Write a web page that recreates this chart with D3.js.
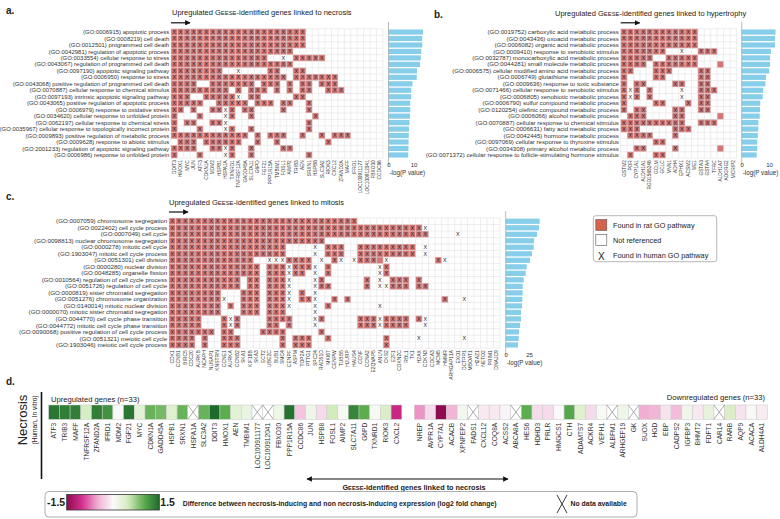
<!DOCTYPE html>
<html><head><meta charset="utf-8">
<script src="https://cdn.jsdelivr.net/npm/d3@7"></script>
<style>body{margin:0;background:#fff}svg{font-family:"Liberation Sans",Arial,sans-serif}</style>
</head><body><svg id="chart" width="780" height="519"></svg>
<script>
// ---------------- DATA ----------------
const necrosisTerms = ["(GO:0006915) apoptotic process","(GO:0008219) cell death","(GO:0012501) programmed cell death","(GO:0042981) regulation of apoptotic process","(GO:0033554) cellular response to stress","(GO:0043067) regulation of programmed cell death","(GO:0097190) apoptotic signaling pathway","(GO:0006950) response to stress","(GO:0043068) positive regulation of programmed cell death","(GO:0070887) cellular response to chemical stimulus","(GO:0097193) intrinsic apoptotic signaling pathway","(GO:0043065) positive regulation of apoptotic process","(GO:0006979) response to oxidative stress","(GO:0034620) cellular response to unfolded protein","(GO:0062197) cellular response to chemical stress","(GO:0035967) cellular response to topologically incorrect protein","(GO:0009893) positive regulation of metabolic process","(GO:0009628) response to abiotic stimulus","(GO:2001233) regulation of apoptotic signaling pathway","(GO:0006986) response to unfolded protein"];
const necrosisGenes = ["DDIT3","HMOX1","MYC","JUN","ATF3","CDKN1A","MDM2","HSPB1","HSPA1A","TXNRD1","TNFRSF12A","GADD45A","SLC7A11","G6PD","FGF21","PPP1R15A","TMBIM1","FOSL1","AIMP2","TRIB3","AEN","SRXN1","HSPB8","SLC3A2","RIOK3","CXCL2","ZFAND2A","MAFF","IFRD1","LOC100911177","LOC100912041","FBXO30","CCDC86"];
// R = found in rat (with X), r = rat only, x = human only
const necrosisCells = ["R0-20","R0-20","R0-20","R0-18","R0-14 x17 R19-23","R0-18","R0-7 x10 R15-16 R19-20","R0-17 R19-25","R0-3 R6-12 R14-16 R18 R20-21 R23-25","R0-8 R10 R12-14 R16 R18 R20-21 R24-26","R0-2 R5-9 x10 R12-13 R19-20","R0-4 R7-11 R13-15 R17-18 R21","R0-1 R3 R6-7 x8 R9 R11-12 R17 R21","R0 R4 x8 R9 R12 R22","R0 R2-3 R6-7 x8 R21","R0 R4 x8 R9 R12 R21","R0-11 R13 R15-17 R20 R23 R25-27","R1-3 R5-10 R13 R16 R24","R0-3 R6-7 x8 R9 R12 R17-18","R0 R4 x8 R9 R12 R21"];
const necrosisLogP = [13.8,13.5,13.5,13.1,12.9,12.6,11.4,11.3,9.6,9.1,9.1,8.7,8.7,8.6,8.4,8.2,8.1,8.0,8.0,7.9];

const hypertrophyTerms = ["(GO:0019752) carboxylic acid metabolic process","(GO:0043436) oxoacid metabolic process","(GO:0006082) organic acid metabolic process","(GO:0009410) response to xenobiotic stimulus","(GO:0032787) monocarboxylic acid metabolic process","(GO:0044281) small molecule metabolic process","(GO:0006575) cellular modified amino acid metabolic process","(GO:0006749) glutathione metabolic process","(GO:0009636) response to toxic substance","(GO:0071466) cellular response to xenobiotic stimulus","(GO:0006805) xenobiotic metabolic process","(GO:0006790) sulfur compound metabolic process","(GO:0120254) olefinic compound metabolic process","(GO:0006066) alcohol metabolic process","(GO:0070887) cellular response to chemical stimulus","(GO:0006631) fatty acid metabolic process","(GO:0042445) hormone metabolic process","(GO:0097069) cellular response to thyroxine stimulus","(GO:0034308) primary alcohol metabolic process","(GO:0071372) cellular response to follicle-stimulating hormone stimulus"];
const hypertrophyGenes = ["GSTM2","POR","CYP1A1","ALDH1A1","RGD1565248","GCLM","GCLC","VNN1","ADH4","EPHX1","ACSM2","ME1","GSTA3","GSTA4","TFRC","ALDH1A7","ADGRG2","MCRIP2"];
const hypertrophyCells = ["R0-11","R0-11","R0-11","R0-6 x9 R12-14","R0-4 R7-11","R0-3 R5-11 r15","R0-1 R5-7 R12-13","R0 R5-6 R12-13","R0 R2-3 R8-9 R12-13","R0 x1 R2 R4 x9 R12-14","R0 x1 R2 R4 x9 R12-13","R0 R5-6 R10 R12-13","R0 R2-3 R8-9 R12-13","R1-3 R8-9 r15","R0-9 R12-14","R0-2 R8-10","R1-4 R8","R5-6","R2-3 R8 r15","R1 R5-6"];
const hypertrophyLogP = [12.4,12.2,12.2,10.7,10.4,10.4,10.1,8.9,8.7,7.9,7.7,6.8,6.7,6.6,6.1,6.1,5.9,5.7,5.7,5.5];

const mitosisTerms = ["(GO:0007059) chromosome segregation","(GO:0022402) cell cycle process","(GO:0007049) cell cycle","(GO:0098813) nuclear chromosome segregation","(GO:0000278) mitotic cell cycle","(GO:1903047) mitotic cell cycle process","(GO:0051301) cell division","(GO:0000280) nuclear division","(GO:0048285) organelle fission","(GO:0010564) regulation of cell cycle process","(GO:0051726) regulation of cell cycle","(GO:0000819) sister chromatid segregation","(GO:0051276) chromosome organization","(GO:0140014) mitotic nuclear division","(GO:0000070) mitotic sister chromatid segregation","(GO:0044770) cell cycle phase transition","(GO:0044772) mitotic cell cycle phase transition","(GO:0090068) positive regulation of cell cycle process","(GO:0051321) meiotic cell cycle","(GO:1903046) meiotic cell cycle process"];
const mitosisGenes = ["CDK1","CCNB1","BIRC5","CDC20","AURKB","NCAPH","NUSAP1","KNSTRN","CCNE1","AURKA","CCNB2","SKA1","KIF18B","SKA3","ECT2","UBE2C","BUB1","SMC4","CENPF","ASPM","TOP2A","PTTG1","SPC24","RAD51D","MKI67","CENPW","TUBB5","HJURP","HAUS4","CCNF","CCNA2","E2QVAP5","ANLN","CKS2","E2F1","CDKN2C","RBL1","TK1","H2AX","CDKN3","CDCA3","MCM5","HMMR","ARHGAP11A","EXO1","DCTPP1","MBOAT1","H2AZ1","NETO2","PRIM1","DNAJC9"];
const mitosisCells = ["R0-28","R0-38 x39","R0-39 x44","R0-23","R0-17 x22 R24-26 R29-37 x39","R0-17 x22 R24-26 R29-37 x39","R0-12 x15-17 R18-21 x23 R25 x26 x28 R29-31 r32 x33 R41 x42","R0-13 R15-17 x18 R19-21 x22 R24 x32 R33","R0-13 R15-17 x18 R19-20 x22 R24 x32 R33","R0-10 R12-13 R15-17 x18 x22 R23 R30 x32 R34-36 R38","R0-10 R12-13 R15-17 x18 x22 R23-24 R30 x32 x33 R34-36 R38-39","R0-7 R11-13 R15-17 x18 R20 x22","R0-7 x8 R11-13 R15-17 x18 R20-21 x22 R25 R27 R42 x45","R0-7 R9 R11-13 R15-17 x18 x22 R24 x32","R0-7 R11-13 R15-17 x22","R0-4 R8 x9 R10 R15-18 x22 R23 R29-31 x32 R33-36 R38 x39","R0-4 R8 x9 R10 R15-16 R18 x22 R29-31 x32 R33-36 x39","R0-6 R8-9 R14-17 R23","R0-3 R5 R8-10 R17 R19-21 R24 R33 x38 x45","R0-3 R5 R8-10 R17 R19-21 R33"];
const mitosisLogP = [36.4,35.7,33.6,30.4,30.0,28.2,26.0,22.5,21.4,19.3,18.2,18.2,17.9,17.5,16.4,16.4,15.4,14.3,13.9,13.2];

const upGenes = ["ATF3","TRIB3","MAFF","TNFRSF12A","ZFAND2A","IFRD1","MDM2","FGF21","MYC","CDKN1A","GADD45A","HSPB1","SRXN1","HSPA1A","SLC3A2","DDIT3","HMOX1","AEN","TMBIM1","LOC100911177","LOC100912041","FBXO30","PPP1R15A","CCDC86","JUN","HSPB8","FOSL1","AIMP2","SLC7A11","G6PD","TXNRD1","RIOK3","CXCL2"];
const upFC = [1.4,1.35,1.35,0.45,1.35,1.2,0.03,1.4,0.3,0.95,0.9,0.35,0.95,null,0.95,1.5,1.0,0.3,0.2,null,null,0.15,1.45,-0.35,0.15,-0.2,0.5,0.04,1.3,1.0,0.05,0.4,-1.1];
const downGenes = ["NREP","AVPR1A","CYP7A1","ACACB","XPNPEP2","FADS1","CXCL12","COQ8A","ACSS2","ABCA8A","HES6","HDHD3","PRLR","HMGCS1","CTH","ADAMTS7","ACKR4","VEPH1","ALBFM1","ARHGEF19","GK","SUOX","HGD","EBP","CADPS2","IGFBP3","BHMT2","FDFT1","CAR14","RARB","AQP9","ACACA","ALDH4A1"];
const downFC = [-0.6,-0.2,-1.5,-0.45,0.1,null,-0.12,-0.12,-0.04,null,1.0,-0.2,-0.2,0.02,1.05,0.35,-0.2,0.05,null,0.15,null,-0.5,-0.45,-0.15,-0.4,0.12,-0.12,0.25,null,0.4,-0.15,0.03,-0.1];
const legendTicks = [-1.5, 1.5];

// ---------------- DRAW ----------------
const svg = d3.select("#chart");
const defs = svg.append("defs");
defs.append("marker").attr("id","ah").attr("viewBox","0 0 10 10").attr("refX",9).attr("refY",5)
  .attr("markerWidth",4.5).attr("markerHeight",4.5).attr("orient","auto-start-reverse")
  .append("path").attr("d","M0,0L10,5L0,10z").attr("fill","#111");

const RED = "#d27676";

function parseRow(spec, n){
  const arr = new Array(n).fill(".");
  spec.split(" ").filter(s=>s).forEach(tok=>{
    const t = tok[0]; const p = tok.slice(1).split("-").map(Number);
    const a = p[0], b = p.length>1 ? p[1] : p[0];
    for(let i=a;i<=b;i++) arr[i]=t;
  });
  return arr;
}

function title(x, y, subject){
  const t = svg.append("text").attr("x",x).attr("y",y).attr("font-size",7.5).attr("fill","#222");
  t.append("tspan").text("Upregulated G");
  t.append("tspan").attr("font-size",5.9).text("EESE");
  t.append("tspan").text("-identified genes linked to " + subject);
}

function panel(cfg){
  const g = svg.append("g");
  const nC = cfg.genes.length, nR = cfg.terms.length;
  const x = d3.scaleBand().domain(cfg.genes).range([cfg.x0, cfg.x0 + cfg.cw*nC]);
  const y = d3.scaleBand().domain(cfg.terms).range([cfg.y0, cfg.y0 + cfg.rh*nR]);
  const cells = [];
  cfg.terms.forEach((t,i)=>{
    parseRow(cfg.cells[i], nC).forEach((c,j)=>{ cells.push({term:t, gene:cfg.genes[j], code:c}); });
  });
  g.selectAll("rect.c").data(cells.filter(d=>d.code==="R"||d.code==="r")).join("rect")
    .attr("x",d=>x(d.gene)).attr("y",d=>y(d.term)).attr("width",x.bandwidth()).attr("height",y.bandwidth())
    .attr("fill",RED);
  const xs = d3.range(nC+1).map(i=>cfg.x0+i*cfg.cw), ys = d3.range(nR+1).map(i=>cfg.y0+i*cfg.rh);
  g.selectAll("line.v").data(xs).join("line").attr("x1",d=>d).attr("x2",d=>d)
    .attr("y1",cfg.y0).attr("y2",cfg.y0+cfg.rh*nR).attr("stroke","#dcdcdc").attr("stroke-width",0.5);
  g.selectAll("line.h").data(ys).join("line").attr("y1",d=>d).attr("y2",d=>d)
    .attr("x1",cfg.x0).attr("x2",cfg.x0+cfg.cw*nC).attr("stroke","#dcdcdc").attr("stroke-width",0.5);
  g.selectAll("text.x").data(cells.filter(d=>d.code==="R"||d.code==="x")).join("text")
    .attr("x",d=>x(d.gene)+x.bandwidth()/2).attr("y",d=>y(d.term)+y.bandwidth()/2+1.9)
    .attr("text-anchor","middle").attr("font-size",5.4).attr("fill","#222").text("X");
  g.selectAll("text.r").data(cfg.terms).join("text")
    .attr("x",cfg.x0-1.8).attr("y",d=>y(d)+y.bandwidth()/2+2.1).attr("text-anchor","end")
    .attr("font-size",cfg.rfs).attr("fill","#333").text(d=>d);
  const yb = cfg.y0+cfg.rh*nR;
  g.selectAll("text.g").data(cfg.genes).join("text")
    .attr("transform",d=>`translate(${x(d)+x.bandwidth()/2+1.7},${yb+2}) rotate(-90)`)
    .attr("text-anchor","end").attr("font-size",cfg.gfs).attr("fill","#333").text(d=>d);
  const bx = d3.scaleLinear().domain([0,cfg.max]).range([cfg.bx0, cfg.bx0+cfg.ppu*cfg.max]);
  g.selectAll("rect.b").data(cfg.logp).join("rect")
    .attr("x",bx(0)).attr("y",(d,i)=>y(cfg.terms[i])+y.bandwidth()*0.1)
    .attr("width",d=>bx(d)-bx(0)).attr("height",y.bandwidth()*0.8).attr("fill","#87ceeb");
  g.append("line").attr("x1",bx(0)).attr("x2",bx(0)).attr("y1",cfg.y0-7).attr("y2",yb+7)
    .attr("stroke","#aaa").attr("stroke-width",0.8);
  const ax = g.append("g").attr("transform",`translate(0,${yb+3})`)
    .call(d3.axisBottom(bx).tickValues(cfg.ticks).tickSize(0).tickPadding(2));
  ax.select(".domain").remove();
  ax.selectAll("text").attr("font-size",6).attr("fill","#333").attr("font-family","Liberation Sans, Arial");
  g.append("text").attr("x",bx(0)+1).attr("y",yb+17).attr("font-size",6.3).attr("fill","#333").text("-log(P value)");
  g.append("line").attr("x1",cfg.x0).attr("x2",cfg.x0+19).attr("y1",cfg.y0-6).attr("y2",cfg.y0-6)
    .attr("stroke","#111").attr("stroke-width",1.2).attr("marker-end","url(#ah)");
}

panel({x0:171, y0:28.8, cw:6.42, rh:6.47, terms:necrosisTerms, genes:necrosisGenes, cells:necrosisCells,
  logp:necrosisLogP, bx0:388.5, ppu:2.5, max:14, ticks:[0,10], gfs:4.8, rfs:5.95});
panel({x0:620.7, y0:28.8, cw:6.43, rh:6.47, terms:hypertrophyTerms, genes:hypertrophyGenes, cells:hypertrophyCells,
  logp:hypertrophyLogP, bx0:741.7, ppu:2.73, max:12.5, ticks:[0,10], gfs:4.8, rfs:6.1});
panel({x0:169, y0:218, cw:6.49, rh:6.51, terms:mitosisTerms, genes:mitosisGenes, cells:mitosisCells,
  logp:mitosisLogP, bx0:505.7, ppu:0.933, max:37, ticks:[0,25], gfs:5.0, rfs:6.2});

title(172, 15, "necrosis");
title(555, 15.5, "hypertrophy");
title(169, 205, "mitosis");

svg.append("text").attr("x",6).attr("y",14).attr("font-size",10).attr("font-weight","bold").attr("fill","#222").text("a.");
svg.append("text").attr("x",434).attr("y",18).attr("font-size",10).attr("font-weight","bold").attr("fill","#222").text("b.");
svg.append("text").attr("x",6).attr("y",200).attr("font-size",10).attr("font-weight","bold").attr("fill","#222").text("c.");
svg.append("text").attr("x",6).attr("y",385).attr("font-size",10).attr("font-weight","bold").attr("fill","#222").text("d.");

// legend a-c
const lg = svg.append("g");
lg.append("rect").attr("x",593.3).attr("y",215.7).attr("width",123.4).attr("height",46).attr("rx",2.5)
  .attr("fill","#fff").attr("stroke","#999").attr("stroke-width",0.7);
lg.append("rect").attr("x",595.8).attr("y",219.5).attr("width",11).attr("height",11).attr("fill","#d6624e").attr("stroke","#555").attr("stroke-width",0.6);
lg.append("rect").attr("x",595.8).attr("y",234.5).attr("width",11).attr("height",11).attr("fill","#fff").attr("stroke","#555").attr("stroke-width",0.6);
lg.append("text").attr("x",601.3).attr("y",259.5).attr("text-anchor","middle").attr("font-size",10).attr("fill","#222").text("X");
[["Found in rat GO pathway",227.5],["Not referenced",242.5],["Found in human GO pathway",257.5]].forEach(d=>{
  lg.append("text").attr("x",613).attr("y",d[1]).attr("font-size",7.3).attr("fill","#222").text(d[0]);
});

// ---------------- panel d ----------------
const color = d3.scaleLinear().domain([-1.5,-1,-0.5,0,0.5,1,1.5])
  .range(["#8e0b50","#d42f8f","#f0aed2","#fafafa","#d3ebbd","#5cad4e","#1e6a2d"]).clamp(true);
const dg = svg.append("g");
const cy0 = 405, ch = 14.3;
function heat(genes, vals, x0){
  const x = d3.scaleBand().domain(genes).range([x0, x0+10.7*genes.length]);
  const data = genes.map((g,i)=>({g, v:vals[i]}));
  dg.selectAll(null).data(data).join("rect").attr("x",d=>x(d.g)).attr("y",cy0).attr("width",x.bandwidth()).attr("height",ch)
    .attr("fill",d=>d.v==null?"#fff":color(d.v)).attr("stroke","#c8c8c8").attr("stroke-width",0.5);
  const nd = data.filter(d=>d.v==null);
  dg.selectAll(null).data(nd).join("path")
    .attr("d",d=>`M${x(d.g)},${cy0}L${x(d.g)+x.bandwidth()},${cy0+ch}M${x(d.g)+x.bandwidth()},${cy0}L${x(d.g)},${cy0+ch}`)
    .attr("stroke","#888").attr("stroke-width",0.7).attr("fill","none");
  dg.selectAll(null).data(genes).join("text")
    .attr("transform",d=>`translate(${x(d)+x.bandwidth()/2+2.4},${cy0+ch+3.5}) rotate(-90)`)
    .attr("text-anchor","end").attr("font-size",6.6).attr("fill","#333").text(d=>d);
}
heat(upGenes, upFC, 48.7);
heat(downGenes, downFC, 414.3);

dg.append("text").attr("x",51).attr("y",402).attr("font-size",7.6).attr("fill","#222").text("Upregulated genes  (n=33)");
dg.append("text").attr("x",765).attr("y",400).attr("text-anchor","end").attr("font-size",7.6).attr("fill","#222").text("Downregulated genes (n=33)");
dg.append("line").attr("x1",41.5).attr("x2",41.5).attr("y1",392).attr("y2",479).attr("stroke","#111").attr("stroke-width",1.6);
dg.append("text").attr("transform","translate(27,420) rotate(-90)").attr("text-anchor","middle").attr("font-size",13).attr("fill","#222").text("Necrosis");
dg.append("text").attr("transform","translate(36.5,420) rotate(-90)").attr("text-anchor","middle").attr("font-size",6.6).attr("fill","#222").text("(Human, In vitro)");

dg.append("line").attr("x1",307).attr("x2",508).attr("y1",479).attr("y2",479).attr("stroke","#111").attr("stroke-width",1.2)
  .attr("marker-start","url(#ah)").attr("marker-end","url(#ah)");
const at = dg.append("text").attr("x",414).attr("y",490).attr("text-anchor","middle").attr("font-size",7.3).attr("font-weight","bold").attr("fill","#222");
at.append("tspan").text("G"); at.append("tspan").attr("font-size",5.8).text("EESE"); at.append("tspan").text("-identified genes linked to necrosis");

dg.append("rect").attr("x",45).attr("y",491.5).attr("width",592).attr("height",25.5).attr("rx",4)
  .attr("fill","#fff").attr("stroke","#999").attr("stroke-width",0.8);
const grad = defs.append("linearGradient").attr("id","pg").attr("x1","0%").attr("x2","100%");
const gx = d3.scaleLinear().domain(legendTicks).range([66.7,159.3]);
d3.range(0,1.0001,0.05).forEach(t=>{
  grad.append("stop").attr("offset",(t*100)+"%").attr("stop-color",color(legendTicks[0]+t*(legendTicks[1]-legendTicks[0])));
});
dg.append("rect").attr("x",gx(-1.5)).attr("y",494.5).attr("width",gx(1.5)-gx(-1.5)).attr("height",15.5)
  .attr("fill","url(#pg)").attr("stroke","#333").attr("stroke-width",0.8);
dg.append("text").attr("x",gx(-1.5)-1.5).attr("y",506).attr("text-anchor","end").attr("font-size",10.5).attr("font-weight","bold").attr("fill","#222").text("-1.5");
dg.append("text").attr("x",gx(1.5)+1).attr("y",506).attr("font-size",10.5).attr("font-weight","bold").attr("fill","#222").text("1.5");
dg.append("text").attr("x",182.7).attr("y",505.5).attr("font-size",6.9).attr("font-weight","bold").attr("fill","#222")
  .text("Difference between necrosis-inducing and non necrosis-inducing expression (log2 fold change)");
dg.append("path").attr("d","M557,495L567,513M567,495L557,513").attr("stroke","#222").attr("stroke-width",0.9);
dg.append("text").attr("x",570.5).attr("y",506).attr("font-size",6.9).attr("font-weight","bold").attr("fill","#222").text("No data available");
</script></body></html>
